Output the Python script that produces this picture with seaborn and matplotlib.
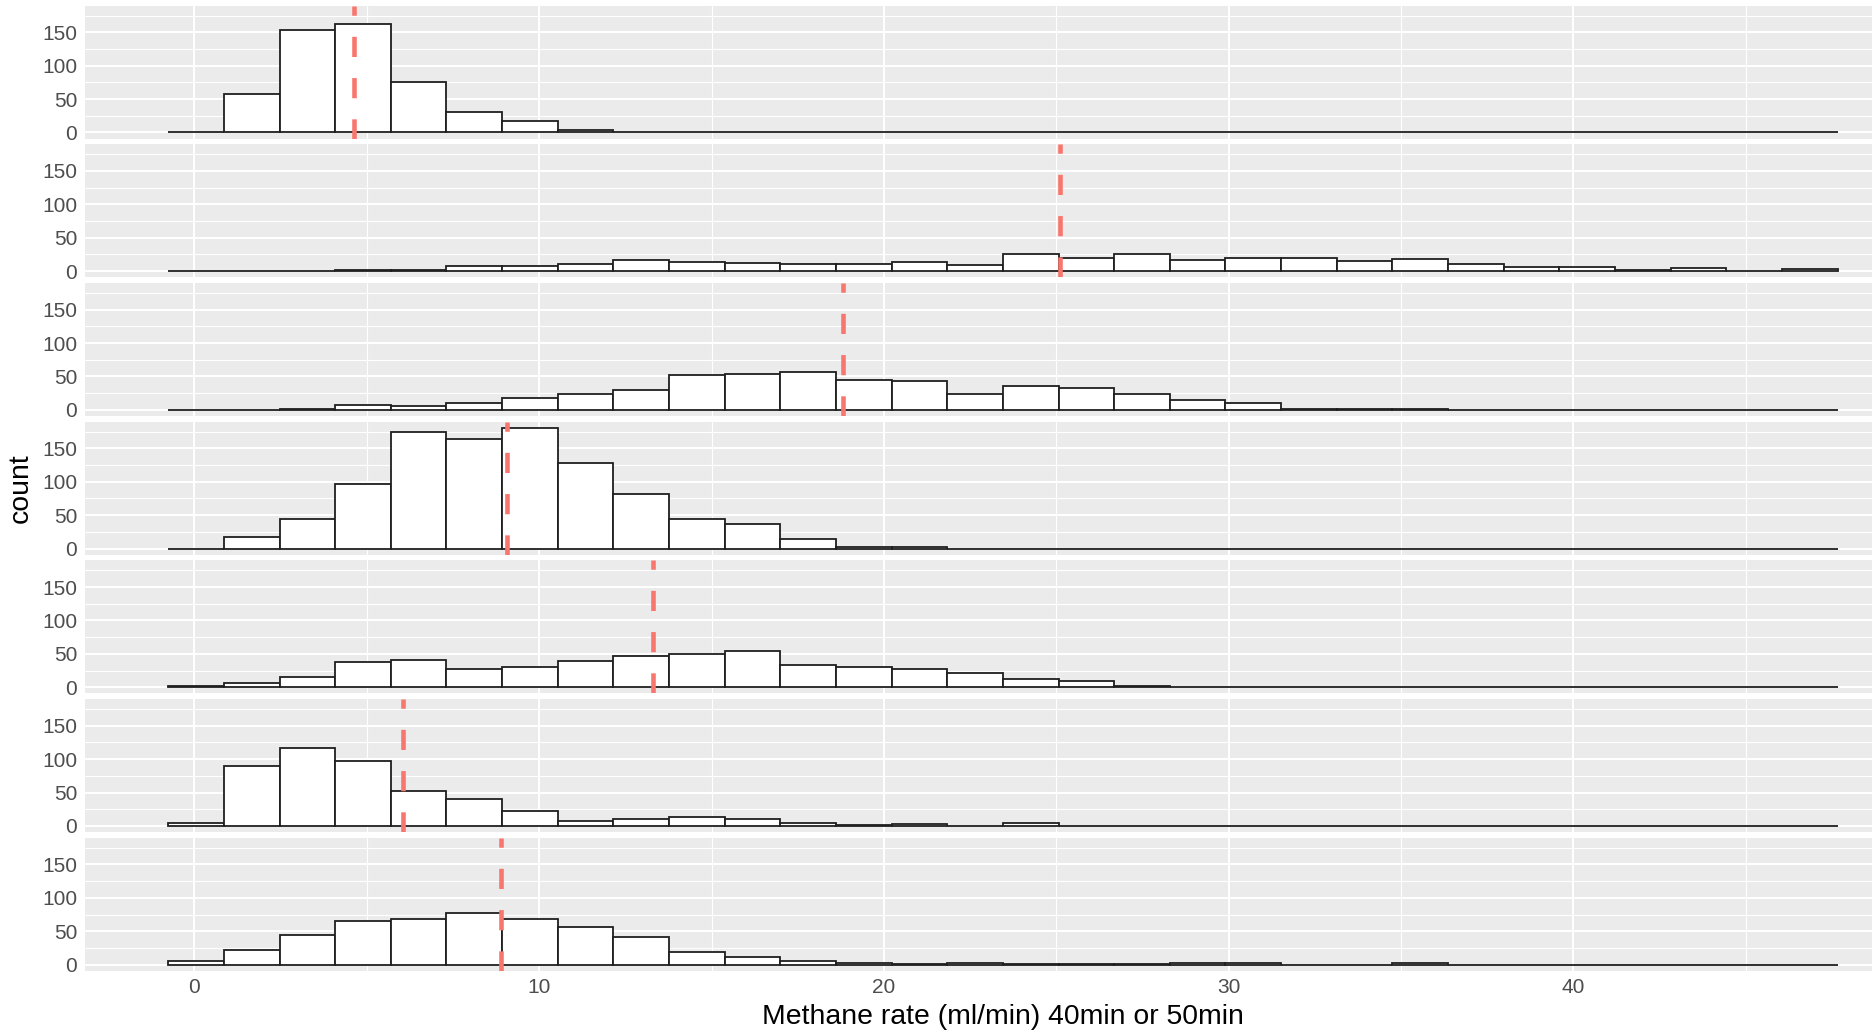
import numpy as np
import pandas as pd
import matplotlib
matplotlib.use("Agg")
import matplotlib.pyplot as plt
from matplotlib.ticker import FixedLocator
import seaborn as sns

# ---- data ----
BIN_START = -0.76
BIN_WIDTH = 1.614
N_BINS = 30

panel_1 = [0, 58, 153, 162, 75, 31, 17, 3] + [0] * 22
panel_2 = [0, 0, 0, 2, 2, 7, 7, 11, 17, 14, 12, 10, 10, 14, 9,
           25, 20, 25, 17, 20, 20, 15, 18, 10, 6, 6, 2, 4, 0, 3]
panel_3 = [0, 0, 2, 8, 6, 11, 17, 23, 29, 52, 53, 57, 45, 43, 24,
           36, 32, 24, 15, 11, 2, 2, 2, 0, 0, 0, 0, 0, 0, 0]
panel_4 = [0, 17, 44, 96, 174, 164, 181, 128, 82, 44, 37, 14, 2, 3] + [0] * 16
panel_5 = [2, 7, 16, 38, 41, 27, 30, 39, 47, 50, 55, 33, 30, 28, 21, 13, 10, 2] + [0] * 12
panel_6 = [5, 90, 117, 97, 53, 40, 22, 7, 11, 14, 11, 5, 1, 3, 0, 5] + [0] * 14
panel_7 = [5, 22, 45, 65, 68, 77, 69, 56, 42, 19, 12, 5, 2, 1, 2, 1, 1, 1, 3, 2, 0, 0, 3] + [0] * 7
panels = [panel_1, panel_2, panel_3, panel_4, panel_5, panel_6, panel_7]

mean_values = [4.62, 25.1, 18.8, 9.07, 13.3, 6.06, 8.9]

x_ticks = [0, 10, 20, 30, 40]
y_ticks = [0, 50, 100, 150]
x_label = "Methane rate (ml/min) 40min or 50min"
y_label = "count"

# ---- styling ----
sns.set_theme(style="darkgrid")
plt.rcParams["font.family"] = ["Liberation Sans", "DejaVu Sans"]

W, H = 1872, 1032
fig = plt.figure(figsize=(W / 100, H / 100), dpi=100)
fig.patch.set_facecolor("white")

bin_lo = BIN_START
bin_hi = BIN_START + BIN_WIDTH * N_BINS
centers = BIN_START + BIN_WIDTH * (np.arange(N_BINS) + 0.5)

left_px, right_px = 84.8, 1921.0
top0, step, ph = 5.5, 138.7, 133.0

axes = []
for i, counts in enumerate(panels):
    top = top0 + step * i
    ax = fig.add_axes([left_px / W, 1 - (top + ph) / H,
                       (right_px - left_px) / W, ph / H])
    axes.append(ax)
    ax.set_facecolor("#EBEBEB")
    df = pd.DataFrame({"rate": centers, "n": np.asarray(counts, dtype=float)})
    sns.histplot(data=df, x="rate", weights="n", binwidth=BIN_WIDTH,
                 binrange=(bin_lo, bin_hi), ax=ax,
                 color="white", edgecolor="#1f1f1f", linewidth=1.3,
                 alpha=1, stat="count", legend=False, zorder=2)
    ax.axvline(mean_values[i], color="#F8766D", lw=3.3,
               linestyle=(0, (4.4, 4.6)), zorder=3)
    ax.set_xlim(-3.18, 50.08)
    ax.set_ylim(-9.05, 190.05)
    ax.xaxis.set_major_locator(FixedLocator(x_ticks))
    ax.xaxis.set_minor_locator(FixedLocator([5, 15, 25, 35, 45]))
    ax.yaxis.set_major_locator(FixedLocator(y_ticks))
    ax.yaxis.set_minor_locator(FixedLocator([25, 75, 125, 175]))
    ax.grid(which="major", color="white", lw=1.5, zorder=0)
    ax.grid(which="minor", color="white", lw=0.8, zorder=0)
    ax.set_axisbelow(True)
    for s in ax.spines.values():
        s.set_visible(False)
    ax.set_ylabel("")
    ax.set_xlabel("")
    ax.tick_params(axis="y", which="major", length=3.5, width=1.0,
                   color="#333333", labelcolor="#4D4D4D", labelsize=15, pad=2)
    ax.tick_params(axis="both", which="minor", length=0)
    if i < len(panels) - 1:
        ax.tick_params(axis="x", which="major", length=0, labelbottom=False)
    else:
        ax.tick_params(axis="x", which="major", length=3.5, width=1.0,
                       color="#333333", labelcolor="#4D4D4D", labelsize=15, pad=2)

axes[-1].set_xlabel(x_label, fontsize=20.4, color="black", labelpad=5)
fig.text(21 / W, 1 - 488 / H, y_label, rotation=90, fontsize=20.4,
         color="black", ha="center", va="center")

fig.savefig("out.png", dpi=100, facecolor="white")
